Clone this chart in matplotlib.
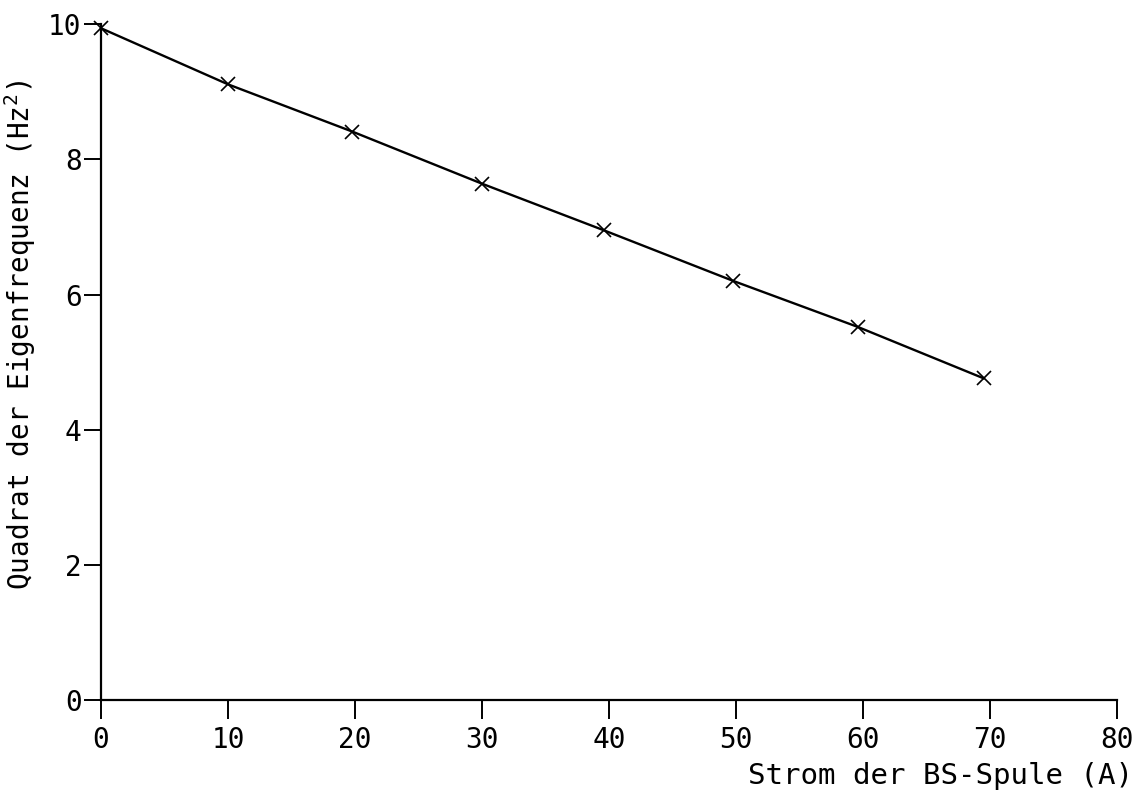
import matplotlib
matplotlib.use("Agg")
import matplotlib.pyplot as plt

# Messwerte: Spulenstrom (A) und Quadrat der Eigenfrequenz (Hz^2)
strom = [0, 10, 19.8, 30, 39.6, 49.8, 59.6, 69.5]
f_quadrat = [9.94, 9.11, 8.41, 7.64, 6.95, 6.20, 5.52, 4.76]

x_ticks = [0, 10, 20, 30, 40, 50, 60, 70, 80]
y_ticks = [0, 2, 4, 6, 8, 10]

plt.rcParams["font.family"] = ["DejaVu Sans Mono"]
plt.rcParams["mathtext.default"] = "regular"

fig = plt.figure(figsize=(11.38, 7.96), dpi=100)
ax = fig.add_axes([0.0888, 0.1206, 0.8927, 0.849])

ax.plot(strom, f_quadrat, color="black", lw=1.7, marker="x",
        markersize=10, markeredgewidth=1.2, clip_on=False)

ax.set_xlim(0, 80)
ax.set_ylim(0, 10)
ax.set_xticks(x_ticks)
ax.set_yticks(y_ticks)

for side in ("top", "right"):
    ax.spines[side].set_visible(False)
for side in ("left", "bottom"):
    ax.spines[side].set_linewidth(1.6)

ax.tick_params(axis="x", direction="out", length=14, width=1.4,
               pad=5, labelsize=20)
ax.tick_params(axis="y", direction="out", length=12, width=1.4,
               pad=2, labelsize=20)

ax.set_xlabel("Strom der BS-Spule (A)", fontsize=21, ha="right", va="top")
ax.xaxis.set_label_coords(1.016, -0.092)
ax.set_ylabel("Quadrat der Eigenfrequenz (Hz$^2$)", fontsize=20,
              va="bottom")
ax.yaxis.set_label_coords(-0.062, 0.54)

fig.savefig("out.png", dpi=100, facecolor="white")
